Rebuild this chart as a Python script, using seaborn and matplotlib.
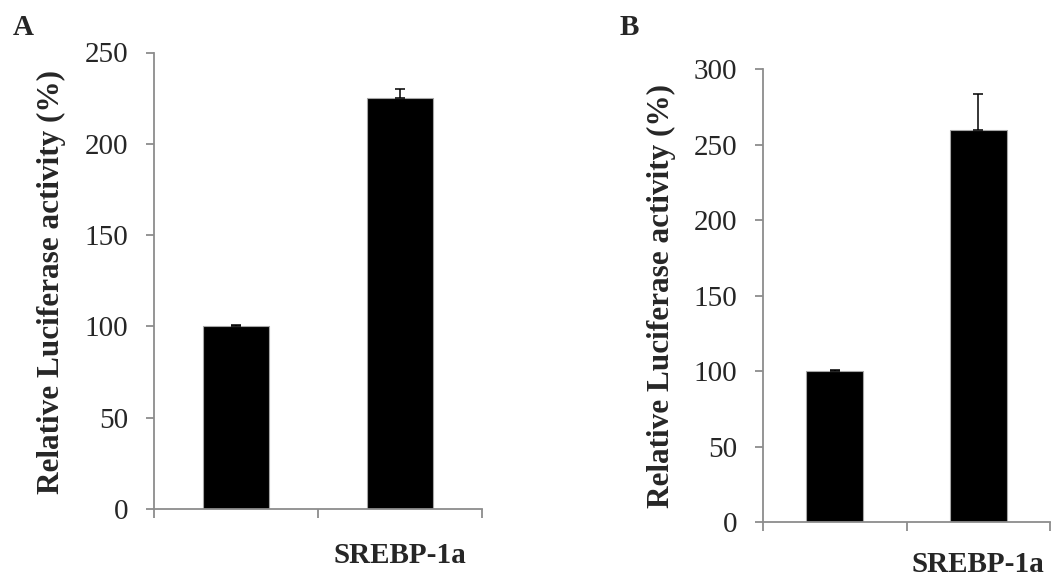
import matplotlib
matplotlib.use("Agg")
import matplotlib.pyplot as plt
import seaborn as sns
import pandas as pd

# Luciferase reporter data (percent of control), two independent experiments
tick_labels = ["", "SREBP-1a"]
values_a = [100, 225]
errors_a = [0.7, 5.2]
values_b = [100, 260]
errors_b = [0.6, 23.5]

sns.set_style("white")
plt.rcParams["font.family"] = ["Liberation Serif", "DejaVu Serif"]

W, H = 1051, 580
fig = plt.figure(figsize=(W / 100, H / 100), dpi=100)

AXIS_GREY = "#8c8c8c"


def px_axes(left, right, top, bottom):
    return fig.add_axes([left / W, 1 - bottom / H, (right - left) / W, (bottom - top) / H])


def draw_panel(ax, values, errors, ymax, label_pad):
    df = pd.DataFrame({"group": tick_labels, "activity": values})
    sns.barplot(data=df, x="group", y="activity", order=tick_labels, ax=ax,
                color="black", width=0.4, errorbar=None,
                edgecolor="#a6a6a6", linewidth=0.8, saturation=1)
    ax.errorbar(x=range(len(values)), y=values, yerr=[[0] * len(errors), errors],
                fmt="none", ecolor="black", elinewidth=1.1, capsize=3.5, capthick=1.1)
    ax.set_xlim(-0.5, len(values) - 0.5)
    ax.set_ylim(0, ymax)
    ax.set_yticks(range(0, ymax + 1, 50))
    ax.set_xlabel("")
    ax.set_ylabel("")
    for side in ("top", "right"):
        ax.spines[side].set_visible(False)
    for side in ("left", "bottom"):
        ax.spines[side].set_color(AXIS_GREY)
        ax.spines[side].set_linewidth(1.3)
    ax.tick_params(axis="y", which="major", direction="out", length=5.5, width=1.3,
                   color=AXIS_GREY, labelsize=21, pad=13, left=True)
    ax.set_xticks(range(len(values)))
    ax.set_xticklabels(tick_labels, fontsize=21, fontweight="bold")
    ax.tick_params(axis="x", which="major", length=0, pad=label_pad)
    ax.set_xticks([i - 0.5 for i in range(len(values) + 1)], minor=True)
    ax.tick_params(axis="x", which="minor", direction="out", length=6.7, width=1.3,
                   color=AXIS_GREY, bottom=True)
    ax.set_facecolor("white")


ax_a = px_axes(154, 482, 52.5, 509)
draw_panel(ax_a, values_a, errors_a, 250, 24)

ax_b = px_axes(763, 1050, 69.3, 522)
draw_panel(ax_b, values_b, errors_b, 300, 21)

ylabel = "Relative Luciferase activity (%)"
fig.text(51 / W, 1 - 282.5 / H, ylabel, rotation=90, ha="center", va="center",
         fontsize=22.5, fontweight="bold")
fig.text(661 / W, 1 - 296.5 / H, ylabel, rotation=90, ha="center", va="center",
         fontsize=22.5, fontweight="bold")

fig.text(13 / W, 1 - 35 / H, "A", ha="left", va="baseline", fontsize=21, fontweight="bold")
fig.text(620 / W, 1 - 35 / H, "B", ha="left", va="baseline", fontsize=21, fontweight="bold")

fig.savefig("out.png", dpi=100, facecolor="white")
